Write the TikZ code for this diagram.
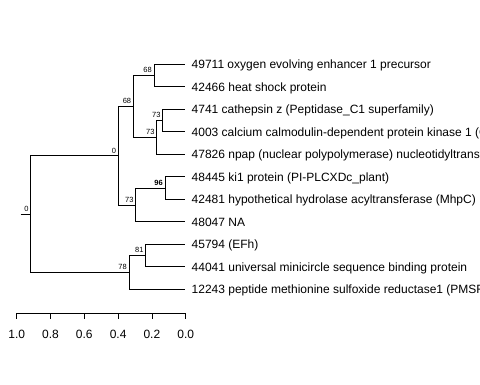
\documentclass[tikz,border=0pt]{standalone}
\usepackage{fontspec}
\setmainfont{Liberation Sans}
\begin{document}
\begin{tikzpicture}[x=1pt,y=-1pt,
  branch/.style={draw=black,line width=0.8pt},
  tiplabel/.style={anchor=base west,inner sep=0pt,font=\fontsize{12}{14}\selectfont},
  boot/.style={anchor=base east,inner sep=0pt,font=\fontsize{7.5}{9}\selectfont},
  ticklabel/.style={anchor=base,inner sep=0pt,font=\fontsize{12}{14}\selectfont}]
\clip (0,0) rectangle (480,384);
\fill[white] (0,0) rectangle (480,384);
% tips
\foreach \i/\n in {1/t1,2/t2,3/t3,4/t4,5/t5,6/t6,7/t7,8/t8,9/t9,10/t10,11/t11}{
  \coordinate (\n) at (185.3,{64.3+22.5*(\i-1)});
}
% internal nodes
\coordinate (n68a) at (154,75.55);
\coordinate (n73a) at (162.7,120.55);
\coordinate (n73b) at (156.7,137.43);
\coordinate (n68b) at (133.3,106.49);
\coordinate (n96) at (165,188.05);
\coordinate (n73c) at (135.7,204.93);
\coordinate (n0) at (118.3,155.71);
\coordinate (n81) at (145.7,255.55);
\coordinate (n78) at (129,272.43);
\coordinate (root) at (30.7,214.07);
\coordinate (rootstub) at (20.7,214.07);
% edges
\draw[branch] (rootstub) -- (root);
\draw[branch] (root) |- (n0);
\draw[branch] (root) |- (n78);
\draw[branch] (n0) |- (n68b);
\draw[branch] (n0) |- (n73c);
\draw[branch] (n68b) |- (n68a);
\draw[branch] (n68b) |- (n73b);
\draw[branch] (n68a) |- (t1);
\draw[branch] (n68a) |- (t2);
\draw[branch] (n73b) |- (n73a);
\draw[branch] (n73b) |- (t5);
\draw[branch] (n73a) |- (t3);
\draw[branch] (n73a) |- (t4);
\draw[branch] (n73c) |- (n96);
\draw[branch] (n73c) |- (t8);
\draw[branch] (n96) |- (t6);
\draw[branch] (n96) |- (t7);
\draw[branch] (n78) |- (n81);
\draw[branch] (n78) |- (t11);
\draw[branch] (n81) |- (t9);
\draw[branch] (n81) |- (t10);
% bootstrap labels
\node[boot] (b0r) at ([shift={(-2,-2.7)}]root) {0};
\node[boot] (b0) at ([shift={(-2,-2.7)}]n0) {0};
\node[boot] (b68b) at ([shift={(-2,-2.7)}]n68b) {68};
\node[boot] (b68a) at ([shift={(-2,-2.7)}]n68a) {68};
\node[boot] (b73b) at ([shift={(-2,-2.7)}]n73b) {73};
\node[boot] (b73a) at ([shift={(-2,-2.7)}]n73a) {73};
\node[boot] (b73c) at ([shift={(-2,-2.7)}]n73c) {73};
\node[boot,font=\fontsize{7.5}{9}\selectfont\bfseries] (b96) at ([shift={(-2,-2.7)}]n96) {96};
\node[boot] (b78) at ([shift={(-2,-2.7)}]n78) {78};
\node[boot] (b81) at ([shift={(-2,-2.7)}]n81) {81};
% tip labels
\node[tiplabel] (l1) at ([shift={(6.2,4.3)}]t1) {49711 oxygen evolving enhancer 1 precursor};
\node[tiplabel] (l2) at ([shift={(6.2,4.3)}]t2) {42466 heat shock protein};
\node[tiplabel] (l3) at ([shift={(6.2,4.3)}]t3) {4741 cathepsin z (Peptidase\_C1 superfamily)};
\node[tiplabel] (l4) at ([shift={(6.2,4.3)}]t4) {4003 calcium calmodulin-dependent protein kinase 1 (CaMK1)};
\node[tiplabel] (l5) at ([shift={(6.2,4.3)}]t5) {47826 npap (nuclear polypolymerase) nucleotidyltransferase};
\node[tiplabel] (l6) at ([shift={(6.2,4.3)}]t6) {48445 ki1 protein (PI-PLCXDc\_plant)};
\node[tiplabel] (l7) at ([shift={(6.2,4.3)}]t7) {42481 hypothetical hydrolase acyltransferase (MhpC)};
\node[tiplabel] (l8) at ([shift={(6.2,4.3)}]t8) {48047 NA};
\node[tiplabel] (l9) at ([shift={(6.2,4.3)}]t9) {45794 (EFh)};
\node[tiplabel] (l10) at ([shift={(6.2,4.3)}]t10) {44041 universal minicircle sequence binding protein};
\node[tiplabel] (l11) at ([shift={(6.2,4.3)}]t11) {12243 peptide methionine sulfoxide reductase1 (PMSR)};
% axis
\coordinate (ax0) at (16.7,313.3);
\coordinate (ax1) at (185.7,313.3);
\draw[branch] (ax0) -- (ax1);
\foreach \k/\lab in {0/1.0,1/0.8,2/0.6,3/0.4,4/0.2,5/0.0}{
  \coordinate (tk\k) at ({16.7+33.8*\k},313.3);
  \draw[branch] (tk\k) -- ++(0,6);
  \node[ticklabel] (tl\k) at ([shift={(0,25)}]tk\k) {\lab};
}
\end{tikzpicture}
\end{document}
